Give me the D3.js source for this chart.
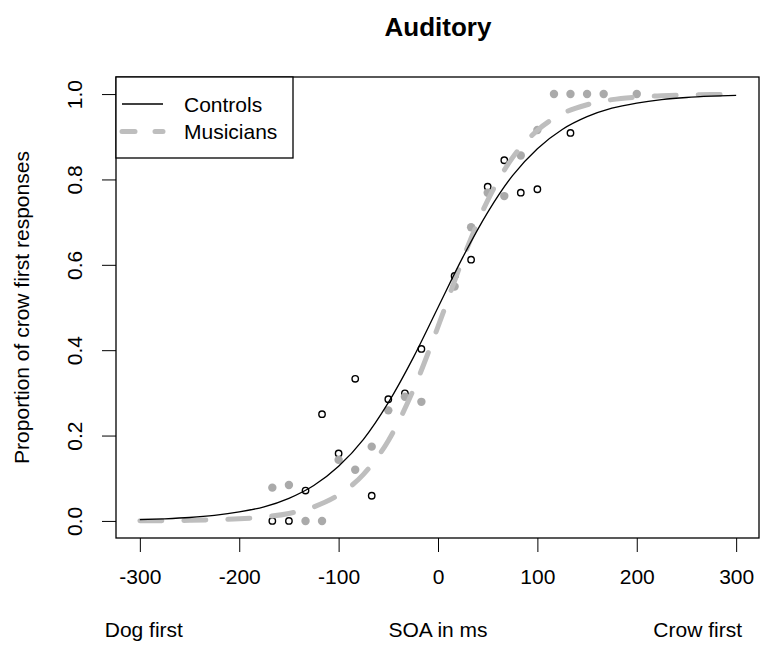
<!DOCTYPE html>
<html>
<head>
<meta charset="utf-8">
<script src="https://cdn.jsdelivr.net/npm/d3@7"></script>
<style>
  body { margin: 0; background: #fff; }
  svg { font-family: "Liberation Sans", Arial, sans-serif; }
</style>
</head>
<body>
<div id="chart"></div>
<script>
// SOA values (ms) and proportions of "crow first" responses
const controlsSoa = [-166.7, -150, -133.3, -116.7, -100, -83.3, -66.7, -50, -33.3, -16.7,
  16.7, 33.3, 50, 66.7, 83.3, 100, 133.3];
const controlsProp = [0, 0, 0.071, 0.250, 0.158, 0.333, 0.059, 0.285, 0.299, 0.403,
  0.574, 0.612, 0.783, 0.845, 0.769, 0.777, 0.909];

const musiciansSoa = [-166.7, -150, -133.3, -116.7, -100, -83.3, -66.7, -50, -33.3, -16.7,
  16.7, 33.3, 50, 66.7, 83.3, 100, 116.7, 133.3, 150, 166.7, 200];
const musiciansProp = [0.078, 0.084, 0, 0, 0.143, 0.120, 0.174, 0.259, 0.291, 0.279,
  0.549, 0.688, 0.769, 0.761, 0.856, 0.916, 1, 1, 1, 1, 1];

// fitted curves, every 25 ms
const curveSoa = [-300, -275, -250, -225, -200, -175, -150, -125, -100, -75, -50, -25, 0,
  25, 50, 75, 100, 125, 150, 175, 200, 225, 250, 275, 300];
const controlsFit = [0.003, 0.005, 0.008, 0.013, 0.021, 0.033, 0.053, 0.083, 0.128, 0.191,
  0.277, 0.382, 0.5, 0.618, 0.723, 0.809, 0.872, 0.917, 0.947, 0.967, 0.979, 0.987, 0.992, 0.995, 0.997];
const musiciansFit = [0.0004, 0.0007, 0.0014, 0.0026, 0.0049, 0.0093, 0.0175, 0.033, 0.061, 0.109,
  0.188, 0.306, 0.455, 0.614, 0.751, 0.851, 0.915, 0.954, 0.975, 0.987, 0.993, 0.996, 0.998, 0.999, 0.9995];

const xTicks = [-300, -200, -100, 0, 100, 200, 300];
const yTicks = [0, 0.2, 0.4, 0.6, 0.8, 1.0];
const seriesNames = ['Controls', 'Musicians'];

const width = 760;
const height = 645;
const plot = { left: 116, right: 760, top: 77, bottom: 538 };
const fontSize = '21px';

const svg = d3.select('#chart')
  .append('svg')
  .attr('width', width)
  .attr('height', height)

svg.append('rect')
  .attr('width', width)
  .attr('height', height)
  .attr('fill', '#fff')

const x = d3.scaleLinear()
  .domain([-324, 324])
  .range([plot.left, plot.right])

const y = d3.scaleLinear()
  .domain([-0.04, 1.04])
  .range([plot.bottom, plot.top])

// axes
const xAxis = svg.append('g')
  .attr('transform', `translate(0,${plot.bottom})`)
  .call(d3.axisBottom(x).tickValues(xTicks).tickSize(14).tickFormat(d3.format('d')))
xAxis.select('.domain').remove()
xAxis.selectAll('line').attr('stroke', '#000').attr('stroke-width', 1)
xAxis.selectAll('text')
  .attr('y', 46)
  .attr('dy', 0)
  .attr('fill', '#000')
  .style('font-size', fontSize)
  .text((d) => d < 0 ? '-' + Math.abs(d) : d)

const yAxis = svg.append('g')
  .attr('transform', `translate(${plot.left},0)`)
  .call(d3.axisLeft(y).tickValues(yTicks).tickSize(14).tickFormat(d3.format('.1f')))
yAxis.select('.domain').remove()
yAxis.selectAll('line').attr('stroke', '#000').attr('stroke-width', 1)
yAxis.selectAll('text')
  .attr('transform', 'rotate(-90)')
  .attr('x', 0)
  .attr('y', -34)
  .attr('dy', 0)
  .attr('text-anchor', 'middle')
  .attr('fill', '#000')
  .style('font-size', fontSize)

// frame
svg.append('rect')
  .attr('x', plot.left)
  .attr('y', plot.top)
  .attr('width', plot.right - plot.left - 1)
  .attr('height', plot.bottom - plot.top)
  .attr('fill', 'none')
  .attr('stroke', '#000')
  .attr('stroke-width', 1.3)

// points
const controls = controlsSoa.map((s, i) => ({ soa: s, p: controlsProp[i] }));
const musicians = musiciansSoa.map((s, i) => ({ soa: s, p: musiciansProp[i] }));

svg.append('g')
  .selectAll('circle')
  .data(controls)
  .join('circle')
  .attr('cx', (d) => x(d.soa))
  .attr('cy', (d) => y(d.p))
  .attr('r', 3.2)
  .attr('fill', 'none')
  .attr('stroke', '#000')
  .attr('stroke-width', 1.4)

svg.append('g')
  .selectAll('circle')
  .data(musicians)
  .join('circle')
  .attr('cx', (d) => x(d.soa))
  .attr('cy', (d) => y(d.p))
  .attr('r', 4.2)
  .attr('fill', '#aaaaaa')

// fitted curves
const line = d3.line()
  .x((d) => x(d[0]))
  .y((d) => y(d[1]))
  .curve(d3.curveMonotoneX)

svg.append('path')
  .datum(curveSoa.map((s, i) => [s, musiciansFit[i]]))
  .attr('d', line)
  .attr('fill', 'none')
  .attr('stroke', '#bebebe')
  .attr('stroke-width', 5)
  .attr('stroke-dasharray', '22 22')
  .attr('stroke-linecap', 'round')

svg.append('path')
  .datum(curveSoa.map((s, i) => [s, controlsFit[i]]))
  .attr('d', line)
  .attr('fill', 'none')
  .attr('stroke', '#000')
  .attr('stroke-width', 1.3)

// legend
const legend = svg.append('g')
legend.append('rect')
  .attr('x', plot.left)
  .attr('y', plot.top)
  .attr('width', 177)
  .attr('height', 81)
  .attr('fill', '#fff')
  .attr('stroke', '#000')
  .attr('stroke-width', 1.3)

const legendRows = legend.selectAll('g.row')
  .data(seriesNames)
  .join('g')
  .attr('class', 'row')
  .attr('transform', (d, i) => `translate(0,${104 + i * 27.5})`)

legendRows.append('line')
  .attr('x1', 122)
  .attr('x2', 163)
  .attr('stroke', (d, i) => i === 0 ? '#000' : '#bebebe')
  .attr('stroke-width', (d, i) => i === 0 ? 1.3 : 5)
  .attr('stroke-dasharray', (d, i) => i === 0 ? null : '13 20')
  .attr('stroke-linecap', (d, i) => i === 0 ? 'butt' : 'round')

legendRows.append('text')
  .attr('x', 184)
  .attr('y', 7.5)
  .style('font-size', fontSize)
  .text((d) => d)

// titles
svg.append('text')
  .attr('x', (plot.left + plot.right) / 2)
  .attr('y', 36)
  .attr('text-anchor', 'middle')
  .style('font-size', '26px')
  .style('font-weight', 'bold')
  .text('Auditory')

svg.append('text')
  .attr('x', (plot.left + plot.right) / 2)
  .attr('y', 637)
  .attr('text-anchor', 'middle')
  .style('font-size', fontSize)
  .text('SOA in ms')

svg.append('text')
  .attr('x', x(-300) + 4)
  .attr('y', 637)
  .attr('text-anchor', 'middle')
  .style('font-size', fontSize)
  .text('Dog first')

svg.append('text')
  .attr('x', 742)
  .attr('y', 637)
  .attr('text-anchor', 'end')
  .style('font-size', fontSize)
  .text('Crow first')

svg.append('text')
  .attr('transform', `translate(29,${(plot.top + plot.bottom) / 2}) rotate(-90)`)
  .attr('text-anchor', 'middle')
  .style('font-size', fontSize)
  .text('Proportion of crow first responses')
</script>
</body>
</html>
